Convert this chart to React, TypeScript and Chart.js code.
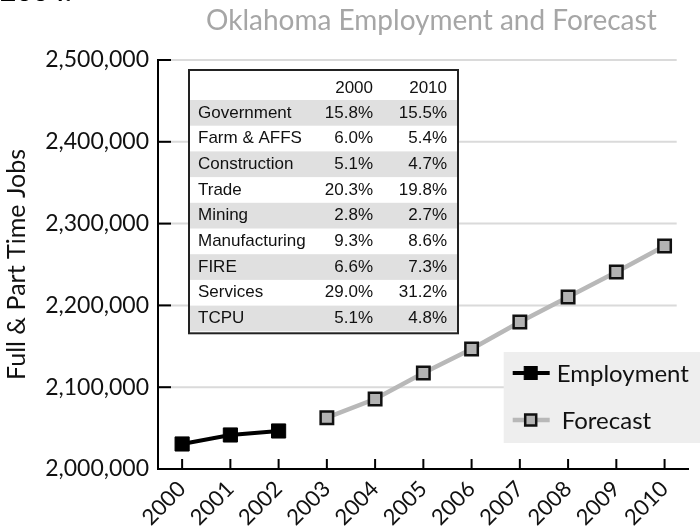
import React, { useEffect, useRef } from 'react';
import { Chart, registerables } from 'chart.js';

Chart.register(...registerables);

const years = ['2000', '2001', '2002', '2003', '2004', '2005', '2006', '2007', '2008', '2009', '2010'];
const employment = [2030600, 2041600, 2046500, null, null, null, null, null, null, null, null];
const forecast = [null, null, null, 2062700, 2085600, 2117400, 2146700, 2179700, 2210300, 2240800, 2272600];
const yMin = 2000000;
const yMax = 2500000;
const yStep = 100000;

const chartTitle = 'Oklahoma Employment and Forecast';
const tableYears = ['2000', '2010'];
const sectors = ['Government', 'Farm & AFFS', 'Construction', 'Trade', 'Mining', 'Manufacturing', 'FIRE', 'Services', 'TCPU'];
const share2000 = ['15.8%', '6.0%', '5.1%', '20.3%', '2.8%', '9.3%', '6.6%', '29.0%', '5.1%'];
const share2010 = ['15.5%', '5.4%', '4.7%', '19.8%', '2.7%', '8.6%', '7.3%', '31.2%', '4.8%'];

const GILL = 'Lato, "DejaVu Sans", sans-serif';
const ARIAL = '"Liberation Sans", Arial, sans-serif';

function line(ctx: CanvasRenderingContext2D, x1: number, y1: number, x2: number, y2: number) {
  ctx.beginPath();
  ctx.moveTo(x1, y1);
  ctx.lineTo(x2, y2);
  ctx.stroke();
}

const decorPlugin = {
  id: 'decor',
  beforeDatasetsDraw(chart: any) {
    const { ctx, chartArea: a, scales } = chart;
    const x = scales.x;
    const y = scales.y;
    ctx.save();
    ctx.strokeStyle = '#dadada';
    ctx.lineWidth = 2;
    y.ticks.forEach((t: any) => {
      const py = y.getPixelForValue(t.value);
      if (py >= a.bottom - 2) return;
      line(ctx, a.left + 1, py, a.right - 12, py);
    });
    ctx.strokeStyle = '#000';
    ctx.lineWidth = 2;
    y.ticks.forEach((t: any) => {
      const py = y.getPixelForValue(t.value);
      line(ctx, a.left, py, a.left + 13, py);
    });
    years.forEach((_, i) => {
      const px = x.getPixelForValue(i);
      line(ctx, px, a.bottom, px, a.bottom - 10);
    });
    ctx.restore();
  },
  afterDraw(chart: any) {
    const { ctx, chartArea: a } = chart;
    ctx.save();
    // title
    ctx.fillStyle = '#a6a6a6';
    ctx.font = `28px ${GILL}`;
    ctx.textAlign = 'center';
    ctx.textBaseline = 'middle';
    ctx.fillText(chartTitle, (a.left + a.right) / 2 + 8, 21);

    // table
    const tl = a.left + 31;
    const tt = a.top + 10;
    const tw = 269;
    const headH = 30;
    const rowH = 25.7;
    const th = headH + rowH * sectors.length + 2;
    ctx.fillStyle = '#ffffff';
    ctx.fillRect(tl, tt, tw, th);
    ctx.fillStyle = '#e0e0e0';
    sectors.forEach((_, i) => {
      if (i % 2 === 0) ctx.fillRect(tl + 1, tt + headH + i * rowH, tw - 2, rowH);
    });
    ctx.strokeStyle = '#222';
    ctx.lineWidth = 2;
    ctx.strokeRect(tl, tt, tw, th);
    ctx.fillStyle = '#111';
    ctx.font = `17px ${ARIAL}`;
    ctx.textBaseline = 'middle';
    const c1 = tl + 184;
    const c2 = tl + 258;
    ctx.textAlign = 'right';
    ctx.fillText(tableYears[0], c1, tt + 18);
    ctx.fillText(tableYears[1], c2, tt + 18);
    sectors.forEach((s, i) => {
      const cy = tt + headH + i * rowH + rowH / 2;
      ctx.textAlign = 'left';
      ctx.fillText(s, tl + 9, cy);
      ctx.textAlign = 'right';
      ctx.fillText(share2000[i], c1, cy);
      ctx.fillText(share2010[i], c2, cy);
    });

    // legend
    const lx = a.right - 185;
    const ly = a.bottom - 117;
    ctx.fillStyle = '#eeeeee';
    ctx.fillRect(lx, ly, chart.width - lx, 91);
    const items = chart.data.datasets;
    items.forEach((ds: any, i: number) => {
      const cy = ly + 21 + i * 47;
      ctx.strokeStyle = ds.borderColor;
      ctx.lineWidth = ds.borderWidth;
      line(ctx, lx + 9, cy, lx + 46, cy);
      const s = i === 0 ? 13 : 11;
      ctx.fillStyle = ds.pointBackgroundColor;
      ctx.fillRect(lx + 27 - s / 2, cy - s / 2, s, s);
      ctx.strokeStyle = ds.pointBorderColor;
      ctx.lineWidth = i === 0 ? 1 : 2.5;
      ctx.strokeRect(lx + 27 - s / 2, cy - s / 2, s, s);
      ctx.fillStyle = '#111';
      ctx.font = `24px ${GILL}`;
      ctx.textAlign = 'left';
      ctx.textBaseline = 'middle';
      ctx.fillText(ds.label, lx + 53 + i * 5, cy + 1);
    });
    ctx.restore();
  },
};

export default function App() {
  const ref = useRef<HTMLCanvasElement | null>(null);

  useEffect(() => {
    document.body.style.margin = '0';
    if (!ref.current) return;
    const chart = new Chart(ref.current, {
      type: 'line',
      data: {
        labels: years,
        datasets: [
          {
            label: 'Employment',
            data: employment,
            borderColor: '#000000',
            borderWidth: 4,
            pointStyle: 'rect',
            pointRadius: 10,
            pointBackgroundColor: '#000000',
            pointBorderColor: '#000000',
            pointBorderWidth: 1,
            spanGaps: false,
          },
          {
            label: 'Forecast',
            data: forecast,
            borderColor: '#b8b8b8',
            borderWidth: 4.5,
            pointStyle: 'rect',
            pointRadius: 8.8,
            pointBackgroundColor: '#b3b3b3',
            pointBorderColor: '#111111',
            pointBorderWidth: 2.5,
            spanGaps: false,
          },
        ],
      },
      options: {
        animation: false,
        responsive: false,
        layout: { padding: { left: 0, right: 5, top: 60, bottom: 0 } },
        plugins: {
          legend: { display: false },
          tooltip: { enabled: false },
          title: { display: false },
        },
        scales: {
          x: {
            type: 'category',
            offset: true,
            grid: { display: false, drawTicks: false },
            border: { display: true, color: '#000', width: 2 },
            ticks: {
              color: '#111',
              font: { family: GILL, size: 22 },
              maxRotation: 45,
              minRotation: 45,
              padding: 7,
              autoSkip: false,
            },
            afterFit(scale: any) {
              scale.height = 60;
            },
          },
          y: {
            min: yMin,
            max: yMax,
            grid: { display: false, drawTicks: false },
            border: { display: true, color: '#000', width: 2 },
            ticks: {
              stepSize: yStep,
              color: '#111',
              font: { family: GILL, size: 23 },
              padding: 9,
              callback: (v: any) => Number(v).toLocaleString('en-US'),
            },
            title: {
              display: true,
              text: 'Full & Part Time Jobs',
              color: '#111',
              font: { family: GILL, size: 25 },
              padding: { top: 2, bottom: 0 },
            },
            afterFit(scale: any) {
              scale.width = 158;
            },
          },
        },
      },
      plugins: [decorPlugin],
    });
    return () => chart.destroy();
  }, []);

  return (
    <div style={{ position: 'relative', width: 700, height: 529, overflow: 'hidden', background: '#fff' }}>
      <div
        style={{
          position: 'absolute',
          left: 0,
          top: -24,
          fontFamily: GILL,
          fontWeight: 'bold',
          fontSize: 28,
          lineHeight: '28px',
          color: '#000',
        }}
      >
        2004.
      </div>
      <canvas ref={ref} width={700} height={529} style={{ display: 'block' }} />
    </div>
  );
}
